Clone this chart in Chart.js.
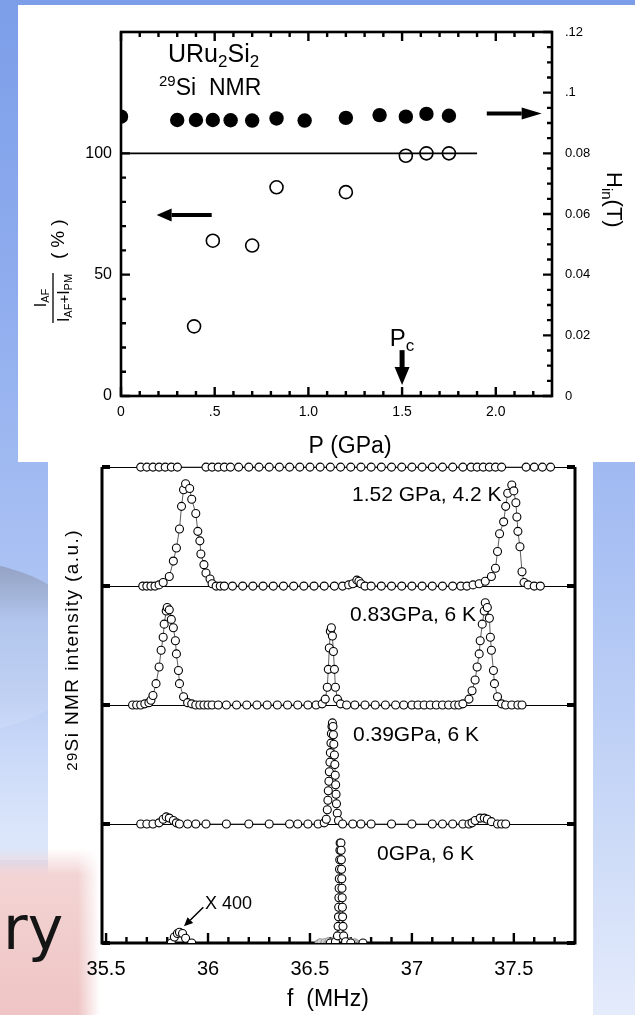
<!DOCTYPE html>
<html>
<head>
<meta charset="utf-8">
<title>URu2Si2 29Si NMR</title>
<script src="https://cdn.jsdelivr.net/npm/chart.js@4.4.1/dist/chart.umd.min.js"></script>
<style>
  html, body { margin: 0; padding: 0; }
  body {
    width: 635px; height: 1015px; position: relative; overflow: hidden;
    background: linear-gradient(180deg, #7c9ee9 0%, #90adee 30%, #a9c1f3 55%, #c9d8f7 80%, #e4ebfb 100%);
  }
  .swoosh {
    position: absolute; left: -170px; top: 562px; width: 260px; height: 170px; border-radius: 50%;
    background: linear-gradient(180deg, rgba(140,152,182,0.8) 0%, rgba(180,196,228,0.5) 35%, rgba(214,226,249,0.35) 100%);
  }
  .haze { position: absolute; left: 0; top: 700px; width: 48px; height: 160px;
    background: linear-gradient(180deg, rgba(220,231,251,0), rgba(228,237,252,0.7)); }
  .box { position: absolute; background: #fff; }
  #box1 { left: 18px; top: 5px; width: 617px; height: 457px; }
  #box2 { left: 48px; top: 462px; width: 545px; height: 553px; }
  .pink {
    position: absolute; left: 0; top: 848px; width: 100px; height: 167px;
    background: linear-gradient(180deg, rgba(243,214,216,0) 0%, #f3d4d4 16%, #efc4c4 100%);
    -webkit-mask-image: linear-gradient(90deg, #000 78%, transparent 100%);
  }
  .pink span { position: absolute; left: 3px; top: 50px; font: 60px "DejaVu Sans"; line-height: 60px; color: #151515; }
  canvas { position: absolute; }
  #c1 { left: 18px; top: 5px; }
  #c2 { left: 48px; top: 462px; }
</style>
</head>
<body>
<div class="swoosh"></div>
<div class="haze"></div>
<div class="box" id="box1"></div>
<div class="box" id="box2"></div>
<div class="pink"><span>ry</span></div>
<canvas id="c1" width="617" height="457"></canvas>
<canvas id="c2" width="545" height="553"></canvas>
<script>
const FONT = '"Liberation Sans", Arial, sans-serif'
const INK = '#000'

// ---- top panel: AF fraction and internal field vs pressure
const pressureH = [0, 0.30, 0.40, 0.49, 0.585, 0.70, 0.83, 0.98, 1.20, 1.38, 1.52, 1.63, 1.75]
const hin = [0.0921, 0.0910, 0.0910, 0.0910, 0.0909, 0.0908, 0.0915, 0.0908, 0.0917, 0.0926, 0.0921, 0.0930, 0.0924]
const pressureAF = [0.39, 0.49, 0.70, 0.83, 1.20, 1.52, 1.63, 1.75]
const ratioAF = [28.7, 64, 62, 86, 84, 99, 100, 100]
const refLineP = [0, 1.90]
const refLineVal = [100, 100]

const xTicksTop = [0, 0.5, 1.0, 1.5, 2.0]
const xLabelsTop = ['0', '.5', '1.0', '1.5', '2.0']
const yTicksLeft = [0, 50, 100]
const yLabelsLeft = ['0', '50', '100']
const yTicksRight = [0, 0.02, 0.04, 0.06, 0.08, 0.1, 0.12]
const yLabelsRight = ['0', '0.02', '0.04', '0.06', '0.08', '.1', '.12']

// arrows in data units [x1, y1, x2, y2] (y on left axis)
const arrowLeft = [0.484, 74.6, 0.19, 74.6]
const arrowRight = [1.952, 116.4, 2.245, 116.4]
const arrowPc = [1.5, 18.9, 1.5, 4.5]

// ---- bottom panel: spectra [f (MHz), intensity above own baseline]
const offsets = [0, 1, 2, 3, 4]
const spec0Side = [[35.82,0],[35.835,0.05],[35.85,0.08],[35.86,0.09],[35.875,0.08],[35.89,0.04],[35.92,0]]
const spec0Peak = [[36.60,0],[36.625,0.01],[36.635,0.06],[36.638,0.14],[36.64,0.22],[36.641,0.3],[36.642,0.38],[36.643,0.46],[36.644,0.54],[36.645,0.62],[36.646,0.7],[36.647,0.78],[36.648,0.84],[36.652,0.84],[36.653,0.78],[36.654,0.7],[36.655,0.62],[36.656,0.54],[36.657,0.46],[36.658,0.38],[36.659,0.3],[36.66,0.22],[36.662,0.14],[36.665,0.06],[36.675,0.01],[36.70,0],[36.76,0]]
const spec0Gray = [[36.54,0],[36.55,0.01],[36.56,-0.02],[36.57,0.01],[36.58,-0.01],[36.59,0.02],[36.60,0.01],[36.61,-0.02],[36.62,0.03],[36.63,0.01],[36.67,0.03],[36.68,-0.01],[36.69,0.02],[36.70,0.01],[36.71,-0.02],[36.72,0.01],[36.73,0],[36.74,-0.01]]
const spec039 = [[35.67,0],[35.70,0],[35.73,0],[35.76,0.01],[35.78,0.04],[35.795,0.06],[35.81,0.05],[35.83,0.03],[35.845,0.01],[35.86,0],[35.90,0],[35.94,0],[35.99,0],[36.09,0],[36.20,0],[36.30,0],[36.40,0],[36.44,0],[36.49,0],[36.54,0],[36.57,0.01],[36.58,0.04],[36.585,0.12],[36.588,0.2],[36.59,0.28],[36.593,0.36],[36.595,0.44],[36.598,0.52],[36.60,0.6],[36.603,0.68],[36.605,0.76],[36.608,0.82],[36.61,0.85],[36.613,0.82],[36.615,0.75],[36.617,0.67],[36.62,0.58],[36.622,0.5],[36.624,0.41],[36.626,0.33],[36.628,0.25],[36.63,0.17],[36.634,0.09],[36.64,0.03],[36.66,0],[36.71,0],[36.75,0],[36.80,0],[36.90,0],[37.00,0],[37.10,0],[37.15,0],[37.20,0],[37.25,0],[37.28,0],[37.295,0.01],[37.31,0.03],[37.335,0.05],[37.355,0.05],[37.37,0.04],[37.39,0.02],[37.42,0],[37.44,0],[37.46,0]]
const spec083 = [[35.63,0],[35.65,0],[35.67,0],[35.69,0.01],[35.71,0.02],[35.72,0.04],[35.73,0.08],[35.745,0.18],[35.76,0.32],[35.77,0.46],[35.78,0.57],[35.785,0.68],[35.795,0.79],[35.80,0.82],[35.81,0.80],[35.82,0.72],[35.83,0.65],[35.84,0.54],[35.845,0.43],[35.855,0.29],[35.86,0.18],[35.88,0.07],[35.90,0.02],[35.92,0.01],[35.94,0],[35.96,0],[35.98,0],[36.00,0],[36.02,0],[36.05,0],[36.09,0],[36.14,0],[36.19,0],[36.24,0],[36.29,0],[36.34,0],[36.39,0],[36.44,0],[36.49,0],[36.53,0],[36.56,0.01],[36.575,0.05],[36.585,0.15],[36.59,0.3],[36.595,0.48],[36.60,0.62],[36.605,0.65],[36.61,0.58],[36.615,0.45],[36.62,0.3],[36.625,0.15],[36.635,0.05],[36.65,0.01],[36.68,0],[36.72,0],[36.77,0],[36.82,0],[36.87,0],[36.92,0],[36.96,0],[37.00,0],[37.03,0],[37.06,0],[37.09,0],[37.12,0],[37.15,0],[37.18,0],[37.21,0],[37.23,0],[37.25,0.01],[37.28,0.05],[37.295,0.12],[37.31,0.21],[37.32,0.32],[37.33,0.43],[37.335,0.54],[37.345,0.68],[37.355,0.79],[37.36,0.86],[37.37,0.82],[37.38,0.73],[37.385,0.57],[37.39,0.46],[37.40,0.29],[37.405,0.18],[37.42,0.07],[37.44,0.01],[37.46,0],[37.49,0],[37.52,0],[37.54,0]]
const spec152 = [[35.68,0],[35.70,0],[35.72,0],[35.74,0],[35.76,0.01],[35.78,0.03],[35.81,0.08],[35.83,0.21],[35.845,0.32],[35.86,0.48],[35.87,0.67],[35.88,0.81],[35.89,0.86],[35.91,0.82],[35.92,0.73],[35.94,0.61],[35.95,0.46],[35.96,0.38],[35.965,0.27],[35.98,0.18],[35.99,0.11],[36.01,0.06],[36.02,0.02],[36.04,0],[36.06,0],[36.08,0],[36.12,0],[36.17,0],[36.22,0],[36.27,0],[36.32,0],[36.37,0],[36.42,0],[36.47,0],[36.52,0],[36.57,0],[36.62,0],[36.66,0],[36.69,0.01],[36.71,0.02],[36.73,0.05],[36.74,0.04],[36.75,0.02],[36.77,0],[36.80,0],[36.85,0],[36.90,0],[36.95,0],[37.00,0],[37.05,0],[37.10,0],[37.15,0],[37.20,0],[37.24,0],[37.27,0],[37.30,0.01],[37.33,0.02],[37.36,0.04],[37.39,0.08],[37.41,0.15],[37.42,0.29],[37.43,0.44],[37.45,0.54],[37.46,0.67],[37.47,0.78],[37.49,0.85],[37.50,0.80],[37.51,0.70],[37.515,0.58],[37.52,0.46],[37.53,0.33],[37.54,0.12],[37.55,0.03],[37.57,0.01],[37.60,0],[37.63,0]]
const specTop = [[35.67,0],[35.70,0],[35.73,0],[35.76,0],[35.79,0],[35.82,0],[35.85,0],[35.99,0],[36.02,0],[36.05,0],[36.08,0],[36.11,0],[36.15,0],[36.20,0],[36.25,0],[36.30,0],[36.35,0],[36.40,0],[36.45,0],[36.50,0],[36.55,0],[36.60,0],[36.65,0],[36.70,0],[36.75,0],[36.80,0],[36.85,0],[36.90,0],[36.95,0],[37.00,0],[37.05,0],[37.10,0],[37.15,0],[37.20,0],[37.25,0],[37.29,0],[37.32,0],[37.35,0],[37.38,0],[37.41,0],[37.44,0],[37.56,0],[37.60,0],[37.64,0],[37.68,0]]

const xTicksBottom = [35.5, 36, 36.5, 37, 37.5]
const xLabelsBottom = ['35.5', '36', '36.5', '37', '37.5']
const arrowX400 = [35.977, 0.30, 35.882, 0.14]

// helpers
function drawRuns(ctx, runs, x, y, align) {
  let w = 0
  runs.forEach(([t, size]) => { ctx.font = size + 'px ' + FONT; w += ctx.measureText(t).width })
  let cx = align === 'center' ? x - w / 2 : x
  ctx.textAlign = 'left'
  ctx.textBaseline = 'alphabetic'
  runs.forEach(([t, size, dy]) => {
    ctx.font = size + 'px ' + FONT
    ctx.fillText(t, cx, y + dy)
    cx += ctx.measureText(t).width
  })
}

function arrow(ctx, x1, y1, x2, y2, head, half, lw) {
  const ang = Math.atan2(y2 - y1, x2 - x1)
  const bx = x2 - head * Math.cos(ang)
  const by = y2 - head * Math.sin(ang)
  ctx.lineWidth = lw
  ctx.beginPath()
  ctx.moveTo(x1, y1)
  ctx.lineTo(bx, by)
  ctx.stroke()
  ctx.beginPath()
  ctx.moveTo(x2, y2)
  ctx.lineTo(bx - half * Math.sin(ang), by + half * Math.cos(ang))
  ctx.lineTo(bx + half * Math.sin(ang), by - half * Math.cos(ang))
  ctx.closePath()
  ctx.fill()
}

function fixedTicks(values) {
  return (scale) => { scale.ticks = values.map((v) => ({ value: v })) }
}

// ---- top chart
const topDecor = {
  id: 'topDecor',
  beforeDatasetsDraw(chart) {
    const { ctx, chartArea: a, scales: { x, y, y2 } } = chart
    ctx.save()
    ctx.strokeStyle = '#000'
    ctx.lineWidth = 2.6
    ctx.strokeRect(a.left, a.top, a.right - a.left, a.bottom - a.top)
    ctx.lineWidth = 2.4
    ctx.beginPath()
    for (let i = 0; i <= 22; i++) {
      const px = x.getPixelForValue(i / 10)
      const len = i % 5 === 0 ? 9 : 5
      ctx.moveTo(px, a.bottom); ctx.lineTo(px, a.bottom - len)
      ctx.moveTo(px, a.top); ctx.lineTo(px, a.top + len)
    }
    for (let i = 0; i <= 10; i++) {
      const py = y.getPixelForValue(i * 10)
      const len = i % 5 === 0 ? 9 : 5
      ctx.moveTo(a.left, py); ctx.lineTo(a.left + len, py)
    }
    for (let i = 0; i <= 24; i++) {
      const py = y2.getPixelForValue(i * 0.005)
      const len = i % 4 === 0 ? 9 : 5
      ctx.moveTo(a.right, py); ctx.lineTo(a.right - len, py)
    }
    ctx.stroke()
    ctx.restore()
  },
  afterDraw(chart) {
    const { ctx, scales: { x, y } } = chart
    ctx.save()
    ctx.fillStyle = '#000'
    ctx.strokeStyle = '#000'
    const toPx = (p) => [x.getPixelForValue(p[0]), y.getPixelForValue(p[1]), x.getPixelForValue(p[2]), y.getPixelForValue(p[3])]
    arrow(ctx, ...toPx(arrowLeft), 15, 6.5, 4)
    arrow(ctx, ...toPx(arrowRight), 20, 6, 4)
    arrow(ctx, ...toPx(arrowPc), 18, 7.5, 5)

    ctx.fillStyle = INK
    drawRuns(ctx, [['URu', 25, 0], ['2', 17, 5], ['Si', 25, 0], ['2', 17, 5]], 150, 57)
    drawRuns(ctx, [['29', 15, -9], ['Si  NMR', 23, 0]], 141, 90)
    drawRuns(ctx, [['P', 24, 0], ['c', 17, 5]], x.getPixelForValue(1.5), 341, 'center')
    drawRuns(ctx, [['P (GPa)', 23, 0]], 332, 448, 'center')

    // left title: I_AF / (I_AF + I_PM) (%)
    ctx.save()
    ctx.translate(35, 318)
    ctx.rotate(-Math.PI / 2)
    ctx.lineWidth = 1.3
    ctx.beginPath(); ctx.moveTo(0, 0); ctx.lineTo(50, 0); ctx.stroke()
    drawRuns(ctx, [['I', 16, 0], ['AF', 11, 3]], 25, -7, 'center')
    drawRuns(ctx, [['I', 16, 0], ['AF', 11, 3], ['+', 15, 0], ['I', 16, 0], ['PM', 11, 3]], 25, 16, 'center')
    ctx.letterSpacing = '5px'
    drawRuns(ctx, [['(%)', 19, 0]], 64, 11)
    ctx.letterSpacing = '0px'
    ctx.restore()

    // right title: H_in (T)
    ctx.save()
    ctx.translate(589, 167)
    ctx.rotate(Math.PI / 2)
    drawRuns(ctx, [['H', 22, 0], ['in', 15, 5], ['(T)', 22, 0]], 0, 0)
    ctx.restore()
    ctx.restore()
  }
}

new Chart(document.getElementById('c1'), {
  type: 'scatter',
  data: {
    datasets: [
      {
        data: refLineP.map((p, i) => ({ x: p, y: refLineVal[i] })),
        showLine: true, borderColor: '#000', borderWidth: 1.6, pointRadius: 0, yAxisID: 'y'
      },
      {
        data: pressureAF.map((p, i) => ({ x: p, y: ratioAF[i] })),
        yAxisID: 'y', pointRadius: 6.5, pointBackgroundColor: '#fff', pointBorderColor: '#000', pointBorderWidth: 1.6
      },
      {
        data: pressureH.map((p, i) => ({ x: p, y: hin[i] })),
        yAxisID: 'y2', pointRadius: 7.2, pointBackgroundColor: '#000', pointBorderColor: '#000', pointBorderWidth: 0
      }
    ]
  },
  options: {
    responsive: false,
    animation: false,
    events: [],
    layout: { padding: { top: 27, left: 0, right: 0, bottom: 0 } },
    plugins: { legend: { display: false }, tooltip: { enabled: false } },
    scales: {
      x: {
        type: 'linear', min: 0, max: 2.3,
        grid: { display: false, drawTicks: false }, border: { display: false },
        ticks: { font: { family: FONT, size: 14 }, color: INK, padding: 8, autoSkip: false, maxRotation: 0,
          callback: (v, i) => xLabelsTop[i] },
        afterBuildTicks: fixedTicks(xTicksTop),
        afterFit: (s) => { s.height = 66 }
      },
      y: {
        position: 'left', min: 0, max: 150,
        grid: { display: false, drawTicks: false }, border: { display: false },
        ticks: { font: { family: FONT, size: 16 }, color: INK, padding: 9, autoSkip: false,
          callback: (v, i) => yLabelsLeft[i] },
        afterBuildTicks: fixedTicks(yTicksLeft),
        afterFit: (s) => { s.width = 103 }
      },
      y2: {
        position: 'right', min: 0, max: 0.12,
        grid: { display: false, drawTicks: false }, border: { display: false },
        ticks: { font: { family: FONT, size: 13 }, color: INK, padding: 13, autoSkip: false,
          callback: (v, i) => yLabelsRight[i] },
        afterBuildTicks: fixedTicks(yTicksRight),
        afterFit: (s) => { s.width = 83 }
      }
    }
  },
  plugins: [topDecor]
})

// ---- bottom chart
const bottomDecor = {
  id: 'bottomDecor',
  beforeDatasetsDraw(chart) {
    const { ctx, chartArea: a, scales: { x, y } } = chart
    ctx.save()
    ctx.strokeStyle = '#000'
    ctx.lineWidth = 3
    ctx.beginPath()
    ctx.moveTo(a.left, a.top); ctx.lineTo(a.left, a.bottom); ctx.lineTo(a.right, a.bottom); ctx.lineTo(a.right, a.top)
    ctx.stroke()
    ctx.lineWidth = 2.4
    ctx.beginPath()
    for (let i = 0; i <= 23; i++) {
      const px = x.getPixelForValue(35.5 + i / 10)
      if (px > a.right - 2) break
      const len = i % 5 === 0 ? 10 : 6
      ctx.moveTo(px, a.bottom); ctx.lineTo(px, a.bottom - len)
    }
    ctx.stroke()
    ctx.lineWidth = 4
    ctx.beginPath()
    offsets.forEach((o) => {
      const py = y.getPixelForValue(o)
      ctx.moveTo(a.left, py); ctx.lineTo(a.left + 8, py)
      ctx.moveTo(a.right, py); ctx.lineTo(a.right - 8, py)
    })
    ctx.stroke()
    ctx.restore()
  },
  afterDraw(chart) {
    const { ctx, scales: { x, y } } = chart
    ctx.save()
    ctx.fillStyle = INK
    drawRuns(ctx, [['1.52 GPa, 4.2 K', 21, 0]], 304, 39)
    drawRuns(ctx, [['0.83GPa, 6 K', 21, 0]], 302, 159)
    drawRuns(ctx, [['0.39GPa, 6 K', 21, 0]], 305, 279)
    drawRuns(ctx, [['0GPa, 6 K', 21, 0]], 329, 398)
    drawRuns(ctx, [['X 400', 18, 0]], 157, 447)
    drawRuns(ctx, [['f  (MHz)', 23, 0]], 280, 544, 'center')
    ctx.fillStyle = '#000'
    ctx.strokeStyle = '#000'
    arrow(ctx, x.getPixelForValue(arrowX400[0]), y.getPixelForValue(arrowX400[1]),
      x.getPixelForValue(arrowX400[2]), y.getPixelForValue(arrowX400[3]), 9, 4, 1.5)

    ctx.save()
    ctx.translate(30, 188)
    ctx.rotate(-Math.PI / 2)
    ctx.fillStyle = INK
    ctx.letterSpacing = '1.4px'
    drawRuns(ctx, [['29', 15, -1], ['Si NMR intensity (a.u.)', 19, 0]], 0, 0, 'center')
    ctx.letterSpacing = '0px'
    ctx.restore()
    ctx.restore()
  }
}

const spectrum = (points, base) => points.map(([f, v]) => ({ x: f, y: base + v }))
const specStyle = {
  showLine: true, borderColor: '#333', borderWidth: 0.8,
  pointRadius: 4, pointBackgroundColor: '#fff', pointBorderColor: '#000', pointBorderWidth: 1.1
}

new Chart(document.getElementById('c2'), {
  type: 'scatter',
  data: {
    datasets: [
      { ...specStyle, data: spectrum(spec0Peak, offsets[0]) },
      { ...specStyle, data: spectrum(spec0Side, offsets[0]) },
      { showLine: false, pointRadius: 3.2, pointBackgroundColor: '#d0d0d0', pointBorderColor: '#8a8a8a', pointBorderWidth: 0.8,
        data: spectrum(spec0Gray, offsets[0]) },
      { ...specStyle, data: spectrum(spec039, offsets[1]) },
      { ...specStyle, data: spectrum(spec083, offsets[2]) },
      { ...specStyle, data: spectrum(spec152, offsets[3]) },
      { ...specStyle, data: spectrum(specTop, offsets[4]), clip: false }
    ]
  },
  options: {
    responsive: false,
    animation: false,
    events: [],
    layout: { padding: { top: 3, left: 0, right: 18, bottom: 0 } },
    plugins: { legend: { display: false }, tooltip: { enabled: false } },
    scales: {
      x: {
        type: 'linear', min: 35.48, max: 37.8,
        grid: { display: false, drawTicks: false }, border: { display: false },
        ticks: { font: { family: FONT, size: 20 }, color: INK, padding: 14, autoSkip: false, maxRotation: 0,
          callback: (v, i) => xLabelsBottom[i] },
        afterBuildTicks: fixedTicks(xTicksBottom),
        afterFit: (s) => { s.height = 72 }
      },
      y: {
        min: 0, max: 4,
        grid: { display: true, drawTicks: false, color: '#000', lineWidth: 1 }, border: { display: false },
        ticks: { display: false },
        afterBuildTicks: fixedTicks(offsets),
        afterFit: (s) => { s.width = 54 }
      }
    }
  },
  plugins: [bottomDecor]
})
</script>
</body>
</html>
